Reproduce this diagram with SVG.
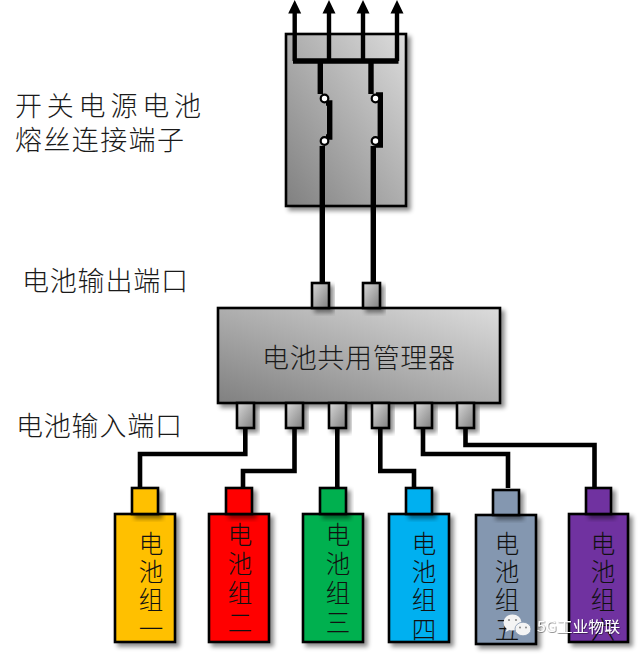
<svg xmlns="http://www.w3.org/2000/svg" width="641" height="656" viewBox="0 0 641 656">
  <style>
    text { font-family: "Noto Sans CJK SC", "Liberation Sans", sans-serif; fill: #1a1a1a; font-weight: 300; }
    .box { stroke: #000; stroke-width: 2.6; filter: url(#shadow); }
    .grey { fill: url(#bodyGrad); }
    .port { fill: url(#portGrad); }
    .wire { fill: none; stroke: #000; stroke-width: 4.600; stroke-linejoin: miter; }
    .thin { stroke-width: 4.400; }
    .thick { stroke-width: 5.400; }
    .label { font-size: 27px; }
    .cell { font-size: 24.500px; text-anchor: middle; fill: #111; }
    .dot { fill: #fff; stroke: #000; stroke-width: 2.200; }
    .mark { font-size: 15px; fill: #fff; font-weight: 400; filter: url(#markShadow); }
  </style>
  <defs>
    <linearGradient id="bodyGrad" x1="0" y1="1" x2="1" y2="0">
      <stop offset="0" stop-color="#808080"/>
      <stop offset="1" stop-color="#dcdcdc"/>
    </linearGradient>
    <linearGradient id="portGrad" x1="0" y1="0" x2="1" y2="1">
      <stop offset="0" stop-color="#d9d9d9"/>
      <stop offset="1" stop-color="#7f7f7f"/>
    </linearGradient>
    <filter id="shadow" x="-20%" y="-20%" width="150%" height="150%">
      <feDropShadow dx="3.500" dy="3.500" stdDeviation="2" flood-color="#000" flood-opacity="0.450"/>
    </filter>
    <filter id="markShadow" x="-10%" y="-20%" width="120%" height="150%">
      <feDropShadow dx="0.500" dy="0.500" stdDeviation="0.700" flood-color="#000" flood-opacity="0.800"/>
    </filter>
  </defs>

  <g id="fuse-box">
    <rect class="box grey" x="286" y="34" width="120" height="172"/>
  </g>

  <g id="manager">
    <rect class="box grey" x="218" y="308" width="282" height="95"/>
    <text class="label" x="262" y="368" textLength="193" lengthAdjust="spacing">电池共用管理器</text>
  </g>

  <g id="output-ports">
    <rect class="box port" x="312" y="283" width="17" height="25"/>
    <rect class="box port" x="363" y="283" width="17" height="25"/>
  </g>

  <g id="input-ports">
    <rect class="box port" x="237" y="403" width="17" height="25"/>
    <rect class="box port" x="286" y="403" width="17" height="25"/>
    <rect class="box port" x="329" y="403" width="17" height="25"/>
    <rect class="box port" x="372" y="403" width="17" height="25"/>
    <rect class="box port" x="415" y="403" width="17" height="25"/>
    <rect class="box port" x="457" y="403" width="17" height="25"/>
  </g>

  <g id="battery-1">
    <rect class="box" fill="#ffc000" x="115" y="514" width="60" height="128"/>
    <rect class="box" fill="#ffc000" x="132" y="488" width="26" height="26"/>
    <text class="cell" x="151"><tspan x="151" y="553">电</tspan><tspan x="151" y="581">池</tspan><tspan x="151" y="609">组</tspan><tspan x="151" y="638">一</tspan></text>
  </g>
  <g id="battery-2">
    <rect class="box" fill="#ff0000" x="209" y="514" width="60" height="128"/>
    <rect class="box" fill="#ff0000" x="226" y="488" width="26" height="26"/>
    <text class="cell" x="240"><tspan x="240" y="544">电</tspan><tspan x="240" y="573">池</tspan><tspan x="240" y="602">组</tspan><tspan x="240" y="632">二</tspan></text>
  </g>
  <g id="battery-3">
    <rect class="box" fill="#00b050" x="303" y="514" width="60" height="128"/>
    <rect class="box" fill="#00b050" x="320" y="488" width="26" height="26"/>
    <text class="cell" x="338"><tspan x="338" y="544">电</tspan><tspan x="338" y="573">池</tspan><tspan x="338" y="602">组</tspan><tspan x="338" y="632">三</tspan></text>
  </g>
  <g id="battery-4">
    <rect class="box" fill="#00b0f0" x="389" y="514" width="60" height="128"/>
    <rect class="box" fill="#00b0f0" x="406" y="488" width="26" height="26"/>
    <text class="cell" x="424"><tspan x="424" y="553">电</tspan><tspan x="424" y="581">池</tspan><tspan x="424" y="609">组</tspan><tspan x="424" y="639">四</tspan></text>
  </g>
  <g id="battery-5">
    <rect class="box" fill="#8497b0" x="476" y="515" width="60" height="129"/>
    <rect class="box" fill="#8497b0" x="493" y="490" width="26" height="25"/>
    <text class="cell" x="507"><tspan x="507" y="553">电</tspan><tspan x="507" y="581">池</tspan><tspan x="507" y="609">组</tspan><tspan x="507" y="639">五</tspan></text>
  </g>
  <g id="battery-6">
    <rect class="box" fill="#7030a0" x="569" y="514" width="59" height="128"/>
    <rect class="box" fill="#7030a0" x="586" y="488" width="25" height="26"/>
    <text class="cell" x="603"><tspan x="603" y="553">电</tspan><tspan x="603" y="581">池</tspan><tspan x="603" y="609">组</tspan><tspan x="603" y="639">六</tspan></text>
  </g>

  <g id="connectors">
    <!-- outgoing terminals above the fuse box -->
    <path class="wire thin" d="M294.700 61V10"/>
    <path class="wire thin" d="M329 61V10"/>
    <path class="wire thin" d="M363 61V10"/>
    <path class="wire thin" d="M397 61V10"/>
    <path d="M294.700 0L301.200 13.500H288.200Z M329 0L335.500 13.500H322.500Z M363 0L369.500 13.500H356.500Z M397 0L403.500 13.500H390.500Z" fill="#000"/>
    <path class="wire thick" d="M293 61H398.500"/>
    <!-- fused links -->
    <path class="wire thick" d="M320.300 61V94"/>
    <path class="wire thick" d="M371 61V94"/>
    <path class="wire thick" d="M326 103H329.700V137H326"/>
    <path class="wire thick" d="M376 95H380.300V145H376"/>
    <path class="wire thick" d="M322.300 146V283"/>
    <path class="wire thick" d="M373.300 146V283"/>
    <!-- manager inputs to battery groups -->
    <path class="wire" d="M245.300 428V454H140V488"/>
    <path class="wire" d="M294.500 428V471H243V488"/>
    <path class="wire" d="M337.300 428V488"/>
    <path class="wire" d="M380.300 428V471H414V488"/>
    <path class="wire" d="M423 428V454H508V488"/>
    <path class="wire" d="M465.500 428V445H594.500V488"/>
  </g>

  <g id="fuse-contacts">
    <circle class="dot" cx="324.500" cy="98.500" r="3.800"/>
    <circle class="dot" cx="324.500" cy="141" r="3.800"/>
    <circle class="dot" cx="375.500" cy="98.500" r="3.800"/>
    <circle class="dot" cx="375.500" cy="141" r="3.800"/>
  </g>

  <g id="labels">
    <text class="label" x="15" y="116" textLength="186" lengthAdjust="spacing">开关电源电池</text>
    <text class="label" x="15" y="150" textLength="169" lengthAdjust="spacing">熔丝连接端子</text>
    <text class="label" x="22" y="291" textLength="166" lengthAdjust="spacing">电池输出端口</text>
    <text class="label" x="16" y="436" textLength="166" lengthAdjust="spacing">电池输入端口</text>
  </g>

  <g id="badge">
    <ellipse cx="512.500" cy="622.500" rx="9" ry="8" fill="#f4f4f4"/>
    <path d="M507 628l-1.500 4 5-2.500z" fill="#f4f4f4"/>
    <ellipse cx="523" cy="629" rx="8" ry="6.800" fill="#f4f4f4" stroke="#8497b0" stroke-width="0.800"/>
    <circle cx="509" cy="620" r="1.100" fill="#888"/>
    <circle cx="516" cy="620" r="1.100" fill="#888"/>
    <circle cx="520" cy="627.500" r="1" fill="#888"/>
    <circle cx="526" cy="627.500" r="1" fill="#888"/>
    <text class="mark" x="537" y="632" textLength="83" lengthAdjust="spacingAndGlyphs">5G工业物联</text>
  </g>
</svg>
